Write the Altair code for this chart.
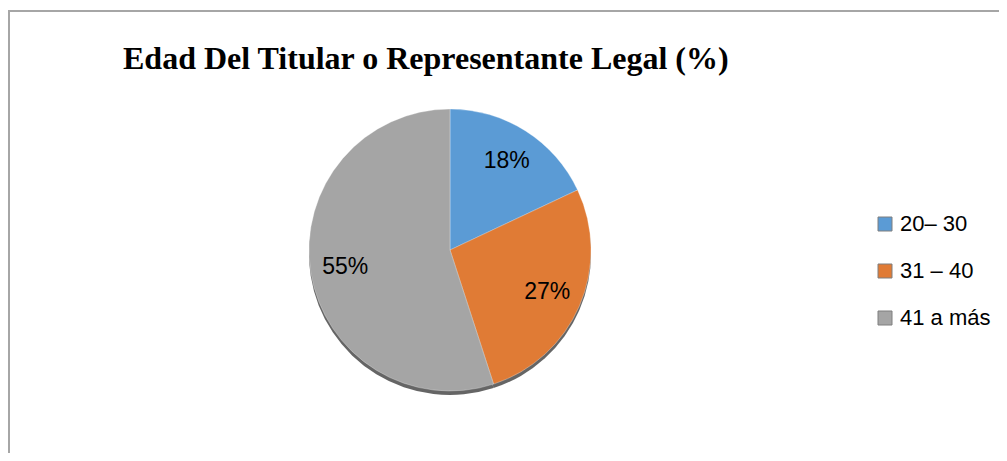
import altair as alt
import pandas as pd

categories = ["20– 30", "31 – 40", "41 a más"]
values = [18, 27, 55]
labels = ["18%", "27%", "55%"]
colors = ["#5B9BD5", "#E07B35", "#A5A5A5"]

df = pd.DataFrame({"cat": categories, "value": values, "label": labels, "idx": [0, 1, 2]})

CX, CY, R = 442, 242, 141

theta = alt.Theta("value:Q", stack=True)
order = alt.Order("idx:Q", sort="ascending")
color = alt.Color(
    "cat:N",
    scale=alt.Scale(domain=categories, range=colors),
    sort=categories,
    legend=alt.Legend(
        title=None,
        orient="none",
        legendX=866,
        legendY=205,
        symbolType="square",
        symbolSize=196,
        symbolStrokeColor="#7f7f7f",
        symbolStrokeWidth=1,
        labelFont="Liberation Sans",
        labelFontSize=22,
        labelColor="#000000",
        rowPadding=25,
        labelOffset=4,
        labelLimit=200,
    ),
)

base = alt.Chart(df)

shadow = base.mark_arc(radius=R, color="#4a4a4a", opacity=0.85).encode(
    theta=theta, order=order, x=alt.value(CX), y=alt.value(CY + 4)
)

pie = base.mark_arc(radius=R, stroke="#ffffff", strokeWidth=0.6, strokeOpacity=0.5).encode(
    theta=theta, order=order, color=color, x=alt.value(CX), y=alt.value(CY)
)

text = base.mark_text(radius=106, font="Liberation Sans", fontSize=23, color="#000000").encode(
    theta=theta, order=order, text="label:N", x=alt.value(CX), y=alt.value(CY)
)

one = alt.Data(values=[{"a": 0}])
title = alt.Chart(one).mark_text(
    text="Edad Del Titular o Representante Legal (%)",
    font="Liberation Serif",
    fontWeight="bold",
    fontSize=32,
    align="left",
    baseline="alphabetic",
    color="#000000",
).encode(x=alt.value(115), y=alt.value(61))

frame_top = alt.Chart(one).mark_rule(color="#A6A6A6", strokeWidth=2).encode(
    x=alt.value(0), x2=alt.value(991), y=alt.value(3)
)
frame_left = alt.Chart(one).mark_rule(color="#A6A6A6", strokeWidth=2).encode(
    x=alt.value(1), y=alt.value(3), y2=alt.value(445)
)

chart = alt.layer(frame_top, frame_left, shadow, pie, text, title).properties(
    width=991, height=445, padding=0, autosize=alt.AutoSizeParams(type="none"), background="white"
).configure_view(stroke=None)

chart.save("out.html", embed_options={"renderer": "svg", "actions": False})
